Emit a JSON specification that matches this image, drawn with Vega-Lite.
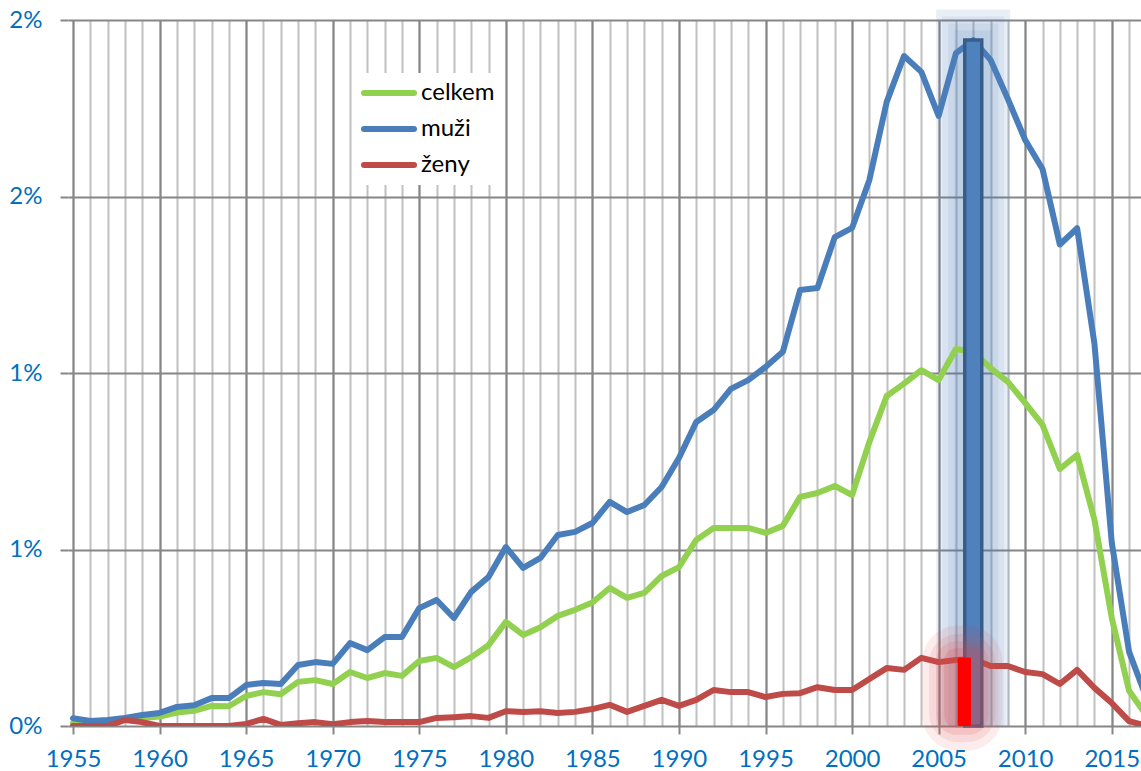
{
  "$schema": "https://vega.github.io/schema/vega-lite/v6.json",
  "width": 1073,
  "height": 706,
  "autosize": {"type": "none"},
  "padding": {"left": 68, "top": 20, "right": 0, "bottom": 45},
  "background": "white",
  "config": {"view": {"stroke": null}},
  "datasets": {
    "rates": [
      {"year":1955,"celkem":0.008,"muži":0.022,"ženy":0.0},
      {"year":1956,"celkem":0.008,"muži":0.014,"ženy":0.0},
      {"year":1957,"celkem":0.01,"muži":0.017,"ženy":0.0},
      {"year":1958,"celkem":0.02,"muži":0.023,"ženy":0.017},
      {"year":1959,"celkem":0.023,"muži":0.031,"ženy":0.011},
      {"year":1960,"celkem":0.027,"muži":0.037,"ženy":0.0},
      {"year":1961,"celkem":0.038,"muži":0.054,"ženy":0.0},
      {"year":1962,"celkem":0.043,"muži":0.059,"ženy":0.0},
      {"year":1963,"celkem":0.057,"muži":0.079,"ženy":0.0},
      {"year":1964,"celkem":0.056,"muži":0.079,"ženy":0.0},
      {"year":1965,"celkem":0.085,"muži":0.116,"ženy":0.006},
      {"year":1966,"celkem":0.096,"muži":0.122,"ženy":0.02},
      {"year":1967,"celkem":0.09,"muži":0.119,"ženy":0.003},
      {"year":1968,"celkem":0.125,"muži":0.173,"ženy":0.008},
      {"year":1969,"celkem":0.13,"muži":0.181,"ženy":0.011},
      {"year":1970,"celkem":0.119,"muži":0.176,"ženy":0.005},
      {"year":1971,"celkem":0.153,"muži":0.235,"ženy":0.011},
      {"year":1972,"celkem":0.136,"muži":0.215,"ženy":0.014},
      {"year":1973,"celkem":0.15,"muži":0.252,"ženy":0.011},
      {"year":1974,"celkem":0.142,"muži":0.252,"ženy":0.011},
      {"year":1975,"celkem":0.184,"muži":0.334,"ženy":0.011},
      {"year":1976,"celkem":0.193,"muži":0.357,"ženy":0.023},
      {"year":1977,"celkem":0.167,"muži":0.306,"ženy":0.025},
      {"year":1978,"celkem":0.195,"muži":0.38,"ženy":0.028},
      {"year":1979,"celkem":0.229,"muži":0.422,"ženy":0.023},
      {"year":1980,"celkem":0.295,"muži":0.507,"ženy":0.042},
      {"year":1981,"celkem":0.258,"muži":0.448,"ženy":0.04},
      {"year":1982,"celkem":0.28,"muži":0.476,"ženy":0.042},
      {"year":1983,"celkem":0.312,"muži":0.541,"ženy":0.037},
      {"year":1984,"celkem":0.329,"muži":0.55,"ženy":0.04},
      {"year":1985,"celkem":0.35,"muži":0.575,"ženy":0.048},
      {"year":1986,"celkem":0.391,"muži":0.635,"ženy":0.06},
      {"year":1987,"celkem":0.363,"muži":0.606,"ženy":0.04},
      {"year":1988,"celkem":0.377,"muži":0.626,"ženy":0.057},
      {"year":1989,"celkem":0.425,"muži":0.677,"ženy":0.074},
      {"year":1990,"celkem":0.45,"muži":0.759,"ženy":0.057},
      {"year":1991,"celkem":0.527,"muži":0.861,"ženy":0.074},
      {"year":1992,"celkem":0.561,"muži":0.895,"ženy":0.102},
      {"year":1993,"celkem":0.561,"muži":0.955,"ženy":0.096},
      {"year":1994,"celkem":0.561,"muži":0.98,"ženy":0.096},
      {"year":1995,"celkem":0.547,"muži":1.017,"ženy":0.082},
      {"year":1996,"celkem":0.567,"muži":1.06,"ženy":0.091},
      {"year":1997,"celkem":0.649,"muži":1.235,"ženy":0.093},
      {"year":1998,"celkem":0.66,"muži":1.241,"ženy":0.11},
      {"year":1999,"celkem":0.68,"muži":1.385,"ženy":0.102},
      {"year":2000,"celkem":0.654,"muži":1.411,"ženy":0.102},
      {"year":2001,"celkem":0.805,"muži":1.547,"ženy":0.133},
      {"year":2002,"celkem":0.935,"muži":1.768,"ženy":0.164},
      {"year":2003,"celkem":0.97,"muži":1.898,"ženy":0.159},
      {"year":2004,"celkem":1.008,"muži":1.853,"ženy":0.193},
      {"year":2005,"celkem":0.98,"muži":1.728,"ženy":0.181},
      {"year":2006,"celkem":1.068,"muži":1.906,"ženy":0.187},
      {"year":2007,"celkem":1.06,"muži":1.943,"ženy":0.19},
      {"year":2008,"celkem":1.014,"muži":1.887,"ženy":0.17},
      {"year":2009,"celkem":0.975,"muži":1.776,"ženy":0.17},
      {"year":2010,"celkem":0.915,"muži":1.66,"ženy":0.153},
      {"year":2011,"celkem":0.853,"muži":1.578,"ženy":0.147},
      {"year":2012,"celkem":0.728,"muži":1.364,"ženy":0.119},
      {"year":2013,"celkem":0.768,"muži":1.41,"ženy":0.159},
      {"year":2014,"celkem":0.584,"muži":1.083,"ženy":0.108},
      {"year":2015,"celkem":0.306,"muži":0.52,"ženy":0.065},
      {"year":2016,"celkem":0.1,"muži":0.21,"ženy":0.014},
      {"year":2017,"celkem":0.03,"muži":0.08,"ženy":0.0}
    ],
    "highlight": [
      {"year":2007,"series":"muži","value":1.943},
      {"year":2007,"series":"ženy","value":0.195}
    ]
  },
  "resolve": {"axis": {"x": "independent", "y": "independent"}},
  "layer": [
    {
      "data": {"name": "highlight"},
      "transform": [{"filter": "datum.series == 'muži'"}],
      "mark": {"type": "bar", "width": 74, "color": "#4a7ebb", "opacity": 0.13},
      "encoding": {
        "x": {"field": "year", "type": "quantitative",
          "scale": {"domain": [1955, 2016.4], "nice": false, "zero": false},
          "axis": {"orient": "bottom", "values": [1955,1956,1957,1958,1959,1960,1961,1962,1963,1964,1965,1966,1967,1968,1969,1970,1971,1972,1973,1974,1975,1976,1977,1978,1979,1980,1981,1982,1983,1984,1985,1986,1987,1988,1989,1990,1991,1992,1993,1994,1995,1996,1997,1998,1999,2000,2001,2002,2003,2004,2005,2006,2007,2008,2009,2010,2011,2012,2013,2014,2015,2016],
            "grid": true, "gridColor": "#c0c0c0", "gridWidth": 2, "labels": false, "ticks": false, "domain": false, "title": null}},
        "y": {"datum": 2.03, "type": "quantitative", "scale": {"domain": [0, 2], "nice": false}, "axis": null},
        "y2": {"datum": 0}
      }
    },
    {
      "data": {"name": "highlight"},
      "transform": [{"filter": "datum.series == 'muži'"}],
      "mark": {"type": "bar", "width": 62, "color": "#4a7ebb", "opacity": 0.1},
      "encoding": {
        "x": {"field": "year", "type": "quantitative", "axis": null},
        "y": {"datum": 2.01, "type": "quantitative", "axis": null},
        "y2": {"datum": 0}
      }
    },
    {
      "data": {"name": "highlight"},
      "transform": [{"filter": "datum.series == 'muži'"}],
      "mark": {"type": "bar", "width": 50, "color": "#4a7ebb", "opacity": 0.1},
      "encoding": {
        "x": {"field": "year", "type": "quantitative", "axis": null},
        "y": {"datum": 1.99, "type": "quantitative", "axis": null},
        "y2": {"datum": 0}
      }
    },
    {
      "data": {"name": "highlight"},
      "transform": [{"filter": "datum.series == 'muži'"}],
      "mark": {"type": "bar", "width": 38, "color": "#4a7ebb", "opacity": 0.1},
      "encoding": {
        "x": {"field": "year", "type": "quantitative", "axis": null},
        "y": {"datum": 1.97, "type": "quantitative", "axis": null},
        "y2": {"datum": 0}
      }
    },
    {
      "data": {"name": "rates"},
      "transform": [{"fold": ["celkem", "muži", "ženy"], "as": ["series", "value"]}],
      "mark": {"type": "line", "strokeWidth": 6, "strokeJoin": "round", "strokeCap": "round", "clip": true},
      "encoding": {
        "x": {"field": "year", "type": "quantitative",
          "axis": {"orient": "bottom", "values": [1955,1960,1965,1970,1975,1980,1985,1990,1995,2000,2005,2010,2015],
            "format": "d", "grid": true, "gridColor": "#868686", "gridWidth": 2,
            "ticks": true, "tickColor": "#868686", "tickWidth": 2, "tickSize": 8,
            "labelFont": "Lato", "labelFontSize": 24, "labelColor": "#0070c0", "labelPadding": 13,
            "labelFlush": false, "labelOverlap": false, "domain": false, "title": null}},
        "y": {"field": "value", "type": "quantitative",
          "axis": {"orient": "left", "values": [0, 0.5, 1, 1.5, 2], "labelExpr": "round(datum.value + 0.01) + '%'",
            "grid": true, "gridColor": "#868686", "gridWidth": 2,
            "ticks": true, "tickColor": "#868686", "tickWidth": 2, "tickSize": 8,
            "labelFont": "Lato", "labelFontSize": 24, "labelColor": "#0070c0", "labelPadding": 18,
            "labelFlush": false, "domain": false, "title": null}},
        "color": {"field": "series", "type": "nominal",
          "scale": {"domain": ["celkem", "muži", "ženy"], "range": ["#92d050", "#4a7ebb", "#be4b48"]},
          "legend": {"orient": "none", "legendX": 291, "legendY": 53, "title": null,
            "fillColor": "white", "padding": 2, "clipHeight": 36, "rowPadding": 0,
            "symbolType": "stroke", "symbolSize": 2500, "symbolStrokeWidth": 6,
            "labelFont": "Lato", "labelFontSize": 24, "labelColor": "black", "labelOffset": 4,
            "encode": {"symbols": {"update": {"strokeCap": {"value": "round"}}}}}}
      }
    },
    {
      "data": {"name": "highlight"},
      "transform": [{"filter": "datum.series == 'muži'"}],
      "mark": {"type": "bar", "width": 17, "color": "#4f81bd", "stroke": "#385d8a", "strokeWidth": 3.5},
      "encoding": {
        "x": {"field": "year", "type": "quantitative", "axis": null},
        "y": {"field": "value", "type": "quantitative", "axis": null}
      }
    },
    {
      "data": {"name": "highlight"},
      "transform": [{"filter": "datum.series == 'ženy'"}],
      "mark": {"type": "bar", "width": 80, "xOffset": -11, "color": "#e04848", "opacity": 0.1, "cornerRadius": 36},
      "encoding": {
        "x": {"field": "year", "type": "quantitative", "axis": null},
        "y": {"datum": 0.285, "type": "quantitative", "axis": null},
        "y2": {"datum": -0.07}
      }
    },
    {
      "data": {"name": "highlight"},
      "transform": [{"filter": "datum.series == 'ženy'"}],
      "mark": {"type": "bar", "width": 66, "xOffset": -11, "color": "#e04848", "opacity": 0.12, "cornerRadius": 28},
      "encoding": {
        "x": {"field": "year", "type": "quantitative", "axis": null},
        "y": {"datum": 0.26, "type": "quantitative", "axis": null},
        "y2": {"datum": -0.045}
      }
    },
    {
      "data": {"name": "highlight"},
      "transform": [{"filter": "datum.series == 'ženy'"}],
      "mark": {"type": "bar", "width": 52, "xOffset": -11, "color": "#e04848", "opacity": 0.15, "cornerRadius": 20},
      "encoding": {
        "x": {"field": "year", "type": "quantitative", "axis": null},
        "y": {"datum": 0.24, "type": "quantitative", "axis": null},
        "y2": {"datum": -0.025}
      }
    },
    {
      "data": {"name": "highlight"},
      "transform": [{"filter": "datum.series == 'ženy'"}],
      "mark": {"type": "bar", "width": 38, "xOffset": -10, "color": "#e04848", "opacity": 0.18, "cornerRadius": 12},
      "encoding": {
        "x": {"field": "year", "type": "quantitative", "axis": null},
        "y": {"datum": 0.22, "type": "quantitative", "axis": null},
        "y2": {"datum": -0.005}
      }
    },
    {
      "data": {"name": "highlight"},
      "transform": [{"filter": "datum.series == 'ženy'"}],
      "mark": {"type": "bar", "width": 14, "xOffset": -9, "color": "#ff0000", "cornerRadius": 2},
      "encoding": {
        "x": {"field": "year", "type": "quantitative", "axis": null},
        "y": {"field": "value", "type": "quantitative", "axis": null}
      }
    }
  ]
}
